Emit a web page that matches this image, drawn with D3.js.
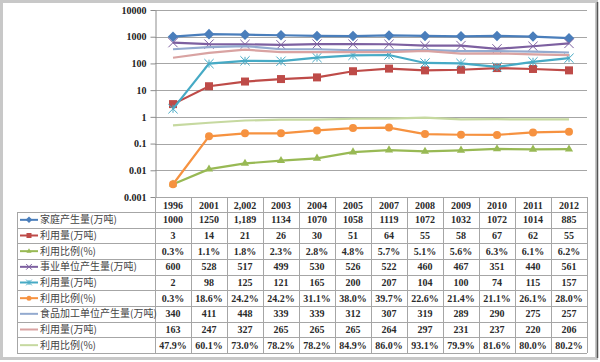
<!DOCTYPE html>
<html>
<head>
<meta charset="utf-8">
<script src="https://cdn.jsdelivr.net/npm/d3@7"></script>
<style>
  body { margin: 0; background: #fff; }
  .tick-label { font-family: "Liberation Serif", serif; font-weight: bold; font-size: 10px; fill: #222; }
  .cell-text { font-family: "Liberation Serif", serif; font-weight: bold; font-size: 10px; fill: #2a2a2a; }
  .row-label { font-family: "Noto Sans CJK SC", sans-serif; font-size: 10px; fill: #444; }
</style>
</head>
<body>
<script>
// ! Chart data
const yearLabels = ["1996", "2001", "2,002", "2003", "2004", "2005", "2007", "2008", "2009", "2010", "2011", "2012"];

const householdGen = [1000, 1250, 1189, 1134, 1070, 1058, 1119, 1072, 1032, 1072, 1014, 885];
const householdUse = [3, 14, 21, 26, 30, 51, 64, 55, 58, 67, 62, 55];
const householdPct = [0.3, 1.1, 1.8, 2.3, 2.8, 4.8, 5.7, 5.1, 5.6, 6.3, 6.1, 6.2];

const institutionGen = [600, 528, 517, 499, 530, 526, 522, 460, 467, 351, 440, 561];
const institutionUse = [2, 98, 125, 121, 165, 200, 207, 104, 100, 74, 115, 157];
const institutionPct = [0.3, 18.6, 24.2, 24.2, 31.1, 38.0, 39.7, 22.6, 21.4, 21.1, 26.1, 28.0];

const foodGen = [340, 411, 448, 339, 339, 312, 307, 319, 289, 290, 275, 257];
const foodUse = [163, 247, 327, 265, 265, 265, 264, 297, 231, 237, 220, 206];
const foodPct = [47.9, 60.1, 73.0, 78.2, 78.2, 84.9, 86.0, 93.1, 79.9, 81.6, 80.0, 80.2];

const seriesNames = ["家庭产生量(万吨)", "利用量(万吨)", "利用比例(%)",
  "事业单位产生量(万吨)", "利用量(万吨)", "利用比例(%)",
  "食品加工单位产生量(万吨)", "利用量(万吨)", "利用比例(%)"];
const seriesValues = [householdGen, householdUse, householdPct,
  institutionGen, institutionUse, institutionPct,
  foodGen, foodUse, foodPct];
const seriesIsPct = [false, false, true, false, false, true, false, false, true];
const seriesColors = ["#4A7EBB", "#BE4B48", "#98B954", "#7D60A0", "#46AAC5", "#F69240", "#93AACF", "#D9A3A2", "#C6D9A0"];
const seriesMarkers = ["diamond", "square", "triangle", "x", "star", "circle", "plus", "none", "none"];

const yTicks = [0.001, 0.01, 0.1, 1, 10, 100, 1000, 10000];

// ! Size and layout
const width = 600;
const height = 362;
const plot = { left: 155, right: 587, top: 10, bottom: 197 };
const table = { labelLeft: 17, headerTop: 197, top: 212, bottom: 353 };

const svg = d3.select("body").append("svg")
  .attr("width", width)
  .attr("height", height);

// ! Outer frame
svg.append("rect")
  .attr("x", 1.5).attr("y", 1.5)
  .attr("width", 595).attr("height", 357)
  .attr("fill", "#fff")
  .attr("stroke", "#c8c8c8")
  .attr("stroke-width", 3);
svg.append("line")
  .attr("x1", 597.5).attr("x2", 597.5)
  .attr("y1", 2).attr("y2", 358)
  .attr("stroke", "#555").attr("stroke-width", 1.5);

// ! Scales
const xScale = d3.scaleBand().domain(yearLabels).range([plot.left, plot.right]);
const yScale = d3.scaleLog().domain([0.001, 10000]).range([plot.bottom, plot.top]);
const rowScale = d3.scaleBand().domain(d3.range(seriesNames.length)).range([table.top, table.bottom]);
const xMid = (i) => xScale(yearLabels[i]) + xScale.bandwidth() / 2;

// ! Gridlines
svg.append("g")
  .selectAll("line")
  .data(yTicks)
  .enter()
  .append("line")
  .attr("x1", plot.left).attr("x2", plot.right)
  .attr("y1", (d) => Math.round(yScale(d)) + 0.5)
  .attr("y2", (d) => Math.round(yScale(d)) + 0.5)
  .attr("stroke", "#a6a6a6");

// ! Y axis
const yAxisG = svg.append("g")
  .attr("transform", `translate(${plot.left + 0.5},0)`)
  .call(d3.axisLeft(yScale).tickValues(yTicks).tickFormat((d) => String(d)).tickSize(5).tickSizeOuter(0));
yAxisG.select(".domain").attr("stroke", "#8c8c8c");
yAxisG.selectAll(".tick line").attr("stroke", "#8c8c8c");
yAxisG.selectAll(".tick text").attr("class", "tick-label").attr("x", -9);

// ! Table grid
const tableG = svg.append("g").attr("stroke", "#a6a6a6").attr("fill", "none");
const colEdges = yearLabels.map((y) => xScale(y)).concat([plot.right]);
colEdges.forEach((x) => {
  tableG.append("line")
    .attr("x1", Math.round(x) + 0.5).attr("x2", Math.round(x) + 0.5)
    .attr("y1", table.headerTop).attr("y2", table.bottom);
});
tableG.append("line")
  .attr("x1", table.labelLeft + 0.5).attr("x2", table.labelLeft + 0.5)
  .attr("y1", table.top).attr("y2", table.bottom);
const rowEdges = d3.range(seriesNames.length).map((i) => rowScale(i)).concat([table.bottom]);
rowEdges.forEach((y) => {
  tableG.append("line")
    .attr("x1", table.labelLeft).attr("x2", plot.right)
    .attr("y1", Math.round(y) + 0.5).attr("y2", Math.round(y) + 0.5);
});

// ! Header row
svg.append("g")
  .selectAll("text")
  .data(yearLabels)
  .enter()
  .append("text")
  .attr("class", "cell-text")
  .attr("x", (d, i) => xMid(i))
  .attr("y", (table.headerTop + table.top) / 2 + 4)
  .attr("text-anchor", "middle")
  .text((d) => d);

// ! Marker drawing helper
function drawMarker(g, type, x, y, color, size) {
  const s = size;
  if (type === "diamond") {
    g.append("path").attr("d", d3.symbol(d3.symbolDiamond2, s * s * 1.1)())
      .attr("transform", `translate(${x},${y})`).attr("fill", color);
  } else if (type === "square") {
    g.append("rect").attr("x", x - s / 2).attr("y", y - s / 2)
      .attr("width", s).attr("height", s).attr("fill", color);
  } else if (type === "triangle") {
    g.append("path").attr("d", d3.symbol(d3.symbolTriangle2, s * s * 0.75)())
      .attr("transform", `translate(${x},${y})`).attr("fill", color);
  } else if (type === "circle") {
    g.append("circle").attr("cx", x).attr("cy", y).attr("r", s / 2).attr("fill", color);
  } else if (type === "x") {
    g.append("path").attr("d", d3.symbol(d3.symbolX, s * s * 0.9)())
      .attr("transform", `translate(${x},${y})`).attr("stroke", color).attr("stroke-width", 1).attr("fill", "none");
  } else if (type === "star") {
    g.append("path").attr("d", d3.symbol(d3.symbolX, s * s * 0.9)())
      .attr("transform", `translate(${x},${y})`).attr("stroke", color).attr("stroke-width", 1).attr("fill", "none");
    g.append("line").attr("x1", x).attr("x2", x).attr("y1", y - s / 2).attr("y2", y + s / 2)
      .attr("stroke", color).attr("stroke-width", 1);
  } else if (type === "plus") {
    g.append("path").attr("d", d3.symbol(d3.symbolPlus, s * s * 0.5)())
      .attr("transform", `translate(${x},${y})`).attr("fill", color);
  }
}

// ! Series lines
const line = d3.line().x((d) => d[0]).y((d) => d[1]);
const linesG = svg.append("g");
seriesValues.forEach((vals, si) => {
  const pts = vals.map((v, i) => [xMid(i), yScale(seriesIsPct[si] ? v / 100 : v)]);
  const g = linesG.append("g");
  g.append("path")
    .attr("d", line(pts))
    .attr("fill", "none")
    .attr("stroke", seriesColors[si])
    .attr("stroke-width", 2.2);
  pts.forEach((p) => drawMarker(g, seriesMarkers[si], p[0], p[1], seriesColors[si], 8));
});

// ! Cell format: the "2,002" column uses a thousands separator
const cellFormat = (d, i, isPct) => isPct ? d.toFixed(1) + "%" : (i === 2 ? d3.format(",")(d) : String(d));

// ! Table body: legend keys, labels and values
seriesNames.forEach((name, si) => {
  const yMid = rowScale(si) + rowScale.bandwidth() / 2;
  const g = svg.append("g");
  g.append("line")
    .attr("x1", 20).attr("x2", 38)
    .attr("y1", yMid).attr("y2", yMid)
    .attr("stroke", seriesColors[si]).attr("stroke-width", 2);
  drawMarker(g, seriesMarkers[si], 29, yMid, seriesColors[si], 5);
  g.append("text")
    .attr("class", "row-label")
    .attr("x", 40)
    .attr("y", yMid + 3.5)
    .text(name);
  g.selectAll(".cell-text")
    .data(seriesValues[si])
    .enter()
    .append("text")
    .attr("class", "cell-text")
    .attr("x", (d, i) => xMid(i))
    .attr("y", yMid + 3.5)
    .attr("text-anchor", "middle")
    .text((d, i) => cellFormat(d, i, seriesIsPct[si]));
});
</script>
</body>
</html>
